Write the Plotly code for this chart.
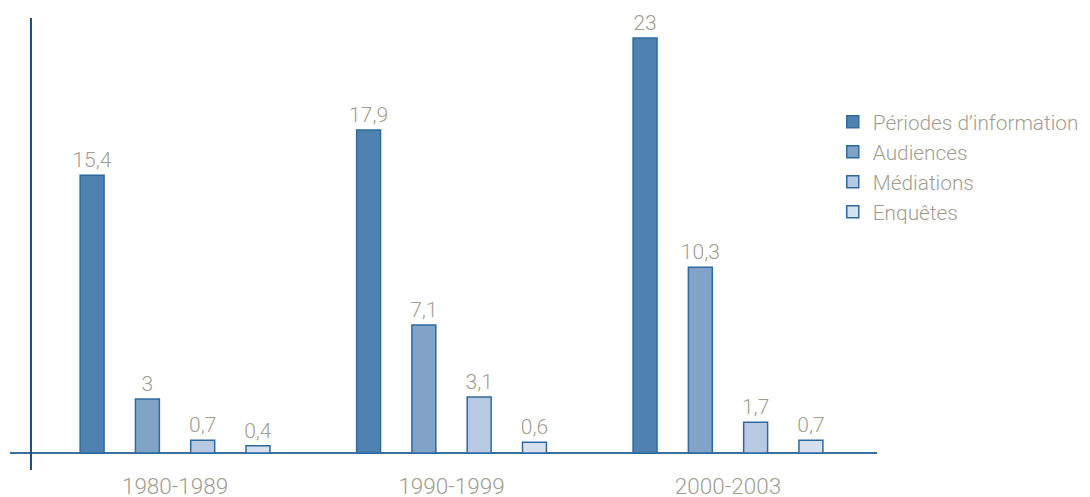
import plotly.graph_objects as go

periods = ["1980-1989", "1990-1999", "2000-2003"]
series_names = ["Périodes d’information", "Audiences", "Médiations", "Enquêtes"]
periodes_info = [15.4, 17.9, 23]
audiences = [3, 7.1, 10.3]
mediations = [0.7, 3.1, 1.7]
enquetes = [0.4, 0.6, 0.7]
colors = ["#4f82b1", "#81a3c8", "#b8c9e1", "#d6e0ee"]

FONT = "Roboto, sans-serif"
TXT = "#a39d90"

x_pos = list(range(len(periods)))
fig = go.Figure()
for name, vals, col in zip(series_names, [periodes_info, audiences, mediations, enquetes], colors):
    fig.add_trace(go.Bar(
        x=x_pos, y=vals, name=name,
        marker=dict(color=col, line=dict(color="#2e6aa0", width=1.5)),
        text=[f"{v:g}".replace(".", ",") for v in vals],
        textposition="outside", cliponaxis=False, constraintext="none",
        textfont=dict(family=FONT, size=21, color=TXT, weight=300),
    ))

fig.update_layout(
    width=1082, height=489,
    margin=dict(l=2, r=213, t=10, b=27, autoexpand=False),
    paper_bgcolor="white", plot_bgcolor="white",
    barmode="group", bargap=0.2, bargroupgap=0.567,
    uniformtext=dict(mode=False),
    showlegend=True,
    legend=dict(x=0.949, y=0.815, xanchor="left", yanchor="top",
                font=dict(family=FONT, size=20.8, color=TXT, weight=300),
                tracegroupgap=0, itemwidth=30, bgcolor="rgba(0,0,0,0)"),
    font=dict(family=FONT, color=TXT),
    xaxis=dict(range=[-0.597, 2.539], tickvals=x_pos, ticktext=periods,
               showgrid=False, zeroline=False, showline=False, ticks="",
               tickfont=dict(family=FONT, size=22.5, color=TXT, weight=300)),
    yaxis=dict(range=[-0.942, 24.11], showgrid=False, showticklabels=False,
               zeroline=True, zerolinecolor="#3a6f9f", zerolinewidth=2,
               showline=False, ticks=""),
    shapes=[dict(type="line", xref="paper", yref="paper", x0=0.0242, x1=0.0242,
                 y0=0, y1=1, line=dict(color="#1d4f7c", width=2))],
)

fig.write_html("out.html")
